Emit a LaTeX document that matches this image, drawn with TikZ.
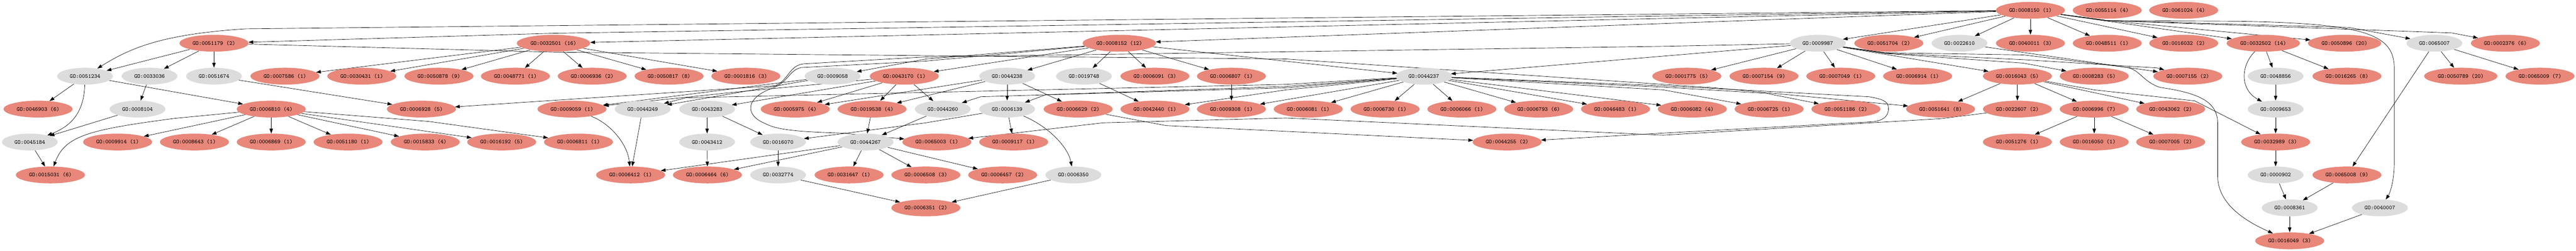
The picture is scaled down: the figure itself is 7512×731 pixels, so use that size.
\documentclass[tikz,border=0pt]{standalone}
\usepackage{tikz}
\usetikzlibrary{arrows.meta,shapes.geometric,backgrounds}
\definecolor{hitred}{RGB}{232,135,122}
\definecolor{ancgrey}{RGB}{220,220,220}

\begin{document}
\begin{tikzpicture}[
        x=0.5pt, y=-0.5pt,
        hitbox/.style={ellipse, fill=hitred, minimum width=100pt, minimum height=24.5pt, inner xsep=4.4pt, inner ysep=0pt, font=\ttfamily\fontsize{8.4}{10}\selectfont},
        ancbox/.style={ellipse, fill=ancgrey, minimum width=81.5pt, minimum height=24.5pt, inner sep=0pt, font=\ttfamily\fontsize{8.4}{10}\selectfont},
        arrow/.style={-{Triangle[length=7pt,width=5pt]}, line width=0.5pt}
    ]
        \useasboundingbox (0,0) rectangle (7512,731);

        % Row 0
        \node[hitbox] (g8150) at (5921,30) {GO:0008150 (1)};
        \node[hitbox] (g55114) at (6145,30) {GO:0055114 (4)};
        \node[hitbox] (g61024) at (6368,30) {GO:0061024 (4)};

        % Row 1
        \node[hitbox] (g51179) at (624,126) {GO:0051179 (2)};
        \node[hitbox] (g32501) at (1614,126) {GO:0032501 (16)};
        \node[hitbox] (g8152) at (3264,126) {GO:0008152 (12)};
        \node[ancbox] (g9987) at (5301,126) {GO:0009987};
        \node[hitbox] (g51704) at (5508,126) {GO:0051704 (2)};
        \node[ancbox] (g22610) at (5714,126) {GO:0022610};
        \node[hitbox] (g40011) at (5921,126) {GO:0040011 (3)};
        \node[hitbox] (g48511) at (6145,126) {GO:0048511 (1)};
        \node[hitbox] (g16032) at (6368,126) {GO:0016032 (2)};
        \node[hitbox] (g32502) at (6600,126) {GO:0032502 (14)};
        \node[hitbox] (g50896) at (6837,126) {GO:0050896 (20)};
        \node[ancbox] (g65007) at (7099,126) {GO:0065007};
        \node[hitbox] (g2376) at (7306,126) {GO:0002376 (6)};

        % Row 2
        \node[ancbox] (g51234) at (248,222) {GO:0051234};
        \node[ancbox] (g33036) at (436,222) {GO:0033036};
        \node[ancbox] (g51674) at (624,222) {GO:0051674};
        \node[hitbox] (g7586) at (831,222) {GO:0007586 (1)};
        \node[hitbox] (g30431) at (1055,222) {GO:0030431 (1)};
        \node[hitbox] (g50878) at (1280,222) {GO:0050878 (9)};
        \node[hitbox] (g48771) at (1503,222) {GO:0048771 (1)};
        \node[hitbox] (g6936) at (1727,222) {GO:0006936 (2)};
        \node[hitbox] (g50817) at (1951,222) {GO:0050817 (8)};
        \node[hitbox] (g1816) at (2175,222) {GO:0001816 (3)};
        \node[ancbox] (g9058) at (2428,222) {GO:0009058};
        \node[hitbox] (g43170) at (2637,222) {GO:0043170 (1)};
        \node[ancbox] (g44238) at (2937,222) {GO:0044238};
        \node[ancbox] (g19748) at (3161,222) {GO:0019748};
        \node[hitbox] (g6091) at (3368,222) {GO:0006091 (3)};
        \node[hitbox] (g6807) at (3591,222) {GO:0006807 (1)};
        \node[ancbox] (g44237) at (4152,222) {GO:0044237};
        \node[hitbox] (g1775) at (4919,222) {GO:0001775 (5)};
        \node[hitbox] (g7154) at (5144,222) {GO:0007154 (9)};
        \node[hitbox] (g7049) at (5368,222) {GO:0007049 (1)};
        \node[hitbox] (g6914) at (5592,222) {GO:0006914 (1)};
        \node[hitbox] (g16043) at (5883,222) {GO:0016043 (5)};
        \node[hitbox] (g8283) at (6107,222) {GO:0008283 (5)};
        \node[hitbox] (g7155) at (6380,222) {GO:0007155 (2)};
        \node[ancbox] (g48856) at (6636,222) {GO:0048856};
        \node[hitbox] (g16265) at (6844,222) {GO:0016265 (8)};
        \node[hitbox] (g50789) at (7176,222) {GO:0050789 (20)};
        \node[hitbox] (g65009) at (7407,222) {GO:0065009 (7)};

        % Row 3
        \node[hitbox] (g46903) at (111,318) {GO:0046903 (6)};
        \node[ancbox] (g8104) at (401,318) {GO:0008104};
        \node[hitbox] (g6810) at (791,318) {GO:0006810 (4)};
        \node[hitbox] (g6928) at (1229,318) {GO:0006928 (5)};
        \node[hitbox] (g9059) at (1668,318) {GO:0009059 (1)};
        \node[ancbox] (g44249) at (1874,318) {GO:0044249};
        \node[ancbox] (g43283) at (2062,318) {GO:0043283};
        \node[hitbox] (g5975) at (2319,318) {GO:0005975 (4)};
        \node[hitbox] (g19538) at (2543,318) {GO:0019538 (4)};
        \node[ancbox] (g44260) at (2749,318) {GO:0044260};
        \node[ancbox] (g6139) at (2937,318) {GO:0006139};
        \node[hitbox] (g6629) at (3144,318) {GO:0006629 (2)};
        \node[hitbox] (g42440) at (3368,318) {GO:0042440 (1)};
        \node[hitbox] (g9308) at (3591,318) {GO:0009308 (1)};
        \node[hitbox] (g6081) at (3815,318) {GO:0006081 (1)};
        \node[hitbox] (g6730) at (4039,318) {GO:0006730 (1)};
        \node[hitbox] (g6066) at (4263,318) {GO:0006066 (1)};
        \node[hitbox] (g6793) at (4487,318) {GO:0006793 (6)};
        \node[hitbox] (g46483) at (4711,318) {GO:0046483 (1)};
        \node[hitbox] (g6082) at (4935,318) {GO:0006082 (4)};
        \node[hitbox] (g6725) at (5159,318) {GO:0006725 (1)};
        \node[hitbox] (g51186) at (5383,318) {GO:0051186 (2)};
        \node[hitbox] (g51641) at (5659,318) {GO:0051641 (8)};
        \node[hitbox] (g22607) at (5883,318) {GO:0022607 (2)};
        \node[hitbox] (g6996) at (6107,318) {GO:0006996 (7)};
        \node[hitbox] (g43062) at (6330,318) {GO:0043062 (2)};
        \node[ancbox] (g9653) at (6636,318) {GO:0009653};

        % Row 4
        \node[ancbox] (g45184) at (87,414) {GO:0045184};
        \node[hitbox] (g9914) at (343,414) {GO:0009914 (1)};
        \node[hitbox] (g8643) at (567,414) {GO:0008643 (1)};
        \node[hitbox] (g6869) at (791,414) {GO:0006869 (1)};
        \node[hitbox] (g51180) at (1015,414) {GO:0051180 (1)};
        \node[hitbox] (g15833) at (1240,414) {GO:0015833 (4)};
        \node[hitbox] (g16192) at (1463,414) {GO:0016192 (5)};
        \node[hitbox] (g6811) at (1687,414) {GO:0006811 (1)};
        \node[ancbox] (g43412) at (2062,414) {GO:0043412};
        \node[ancbox] (g16070) at (2269,414) {GO:0016070};
        \node[ancbox] (g44267) at (2524,414) {GO:0044267};
        \node[hitbox] (g65003) at (2732,414) {GO:0065003 (1)};
        \node[hitbox] (g9117) at (2956,414) {GO:0009117 (1)};
        \node[hitbox] (g44255) at (4395,414) {GO:0044255 (2)};
        \node[hitbox] (g51276) at (5883,414) {GO:0051276 (1)};
        \node[hitbox] (g16050) at (6107,414) {GO:0016050 (1)};
        \node[hitbox] (g7005) at (6330,414) {GO:0007005 (2)};
        \node[hitbox] (g32989) at (6636,414) {GO:0032989 (3)};

        % Row 5
        \node[hitbox] (g15031) at (147,510) {GO:0015031 (6)};
        \node[hitbox] (g6412) at (1839,510) {GO:0006412 (1)};
        \node[hitbox] (g6464) at (2063,510) {GO:0006464 (6)};
        \node[ancbox] (g32774) at (2269,510) {GO:0032774};
        \node[hitbox] (g31647) at (2476,510) {GO:0031647 (1)};
        \node[hitbox] (g6508) at (2700,510) {GO:0006508 (3)};
        \node[hitbox] (g6457) at (2924,510) {GO:0006457 (2)};
        \node[ancbox] (g6350) at (3130,510) {GO:0006350};
        \node[ancbox] (g902) at (6636,510) {GO:0000902};
        \node[hitbox] (g65008) at (6844,510) {GO:0065008 (9)};

        % Rows 6 and 7
        \node[hitbox] (g6351) at (2700,606) {GO:0006351 (2)};
        \node[ancbox] (g8361) at (6677,606) {GO:0008361};
        \node[ancbox] (g40007) at (6940,606) {GO:0040007};
        \node[hitbox] (g16049) at (6677,702) {GO:0016049 (3)};

        \begin{scope}[on background layer]
        % Arrows from the root
        \draw[arrow] (g8150) -- (1614,97) -- (g51179);
        \draw[arrow] (g8150) -- (717,84) .. controls (470,100) and (380,140) .. (g51234);
        \draw[arrow] (g8150) -- (g32501);
        \draw[arrow] (g8150) -- (g8152);
        \draw[arrow] (g8150) -- (g9987);
        \draw[arrow] (g8150) -- (g51704);
        \draw[arrow] (g8150) -- (g22610);
        \draw[arrow] (g8150) -- (g40011);
        \draw[arrow] (g8150) -- (g48511);
        \draw[arrow] (g8150) -- (g16032);
        \draw[arrow] (g8150) -- (g32502);
        \draw[arrow] (g8150) -- (6145,60) -- (g50896);
        \draw[arrow] (g8150) -- (6145,60) -- (6850,80) -- (g65007);
        \draw[arrow] (g8150) -- (6145,60) -- (7150,96) -- (g2376);
        \draw[arrow] (g8150) -- (6145,60) -- (6524,62) .. controls (6900,68) and (6982,100) .. (6982,200) -- (6982,470) .. controls (6982,540) and (6965,570) .. (g40007);

        % Localization and transport
        \draw[arrow] (g51179) -- (g51234);
        \draw[arrow] (g51179) -- (g33036);
        \draw[arrow] (g51179) -- (g51674);
        \draw[arrow] (g51179) -- (1614,152) -- (3750,172) -- (5000,256) -- (g51641);
        \draw[arrow] (g51234) -- (g46903);
        \draw[arrow] (g51234) -- (g6810);
        \draw[arrow] (g51234) .. controls (245,320) and (215,365) .. (g45184);
        \draw[arrow] (g33036) -- (g8104);
        \draw[arrow] (g51674) -- (g6928);
        \draw[arrow] (g8104) -- (g45184);
        \draw[arrow] (g45184) -- (g15031);
        \draw[arrow] (g6810) -- (510,345) .. controls (260,378) and (190,395) .. (g15031);
        \draw[arrow] (g6810) -- (g9914);
        \draw[arrow] (g6810) -- (g8643);
        \draw[arrow] (g6810) -- (g6869);
        \draw[arrow] (g6810) -- (g51180);
        \draw[arrow] (g6810) -- (g15833);
        \draw[arrow] (g6810) -- (g16192);
        \draw[arrow] (g6810) -- (1250,354) -- (g6811);

        % Multicellular organismal process
        \draw[arrow] (g32501) -- (g7586);
        \draw[arrow] (g32501) -- (g30431);
        \draw[arrow] (g32501) -- (g50878);
        \draw[arrow] (g32501) -- (g48771);
        \draw[arrow] (g32501) -- (g6936);
        \draw[arrow] (g32501) -- (g50817);
        \draw[arrow] (g32501) -- (g1816);

        % Metabolic process
        \draw[arrow] (g8152) -- (2700,172) -- (g9058);
        \draw[arrow] (g8152) -- (g43170);
        \draw[arrow] (g8152) -- (g44238);
        \draw[arrow] (g8152) -- (g19748);
        \draw[arrow] (g8152) -- (g6091);
        \draw[arrow] (g8152) -- (g6807);
        \draw[arrow] (g8152) -- (g44237);
        \draw[arrow] (g8152) -- (2700,178) -- (2336,197) .. controls (2300,205) and (2300,240) .. (2250,258) .. controls (2175,285) and (2170,335) .. (2231,360) .. controls (2265,378) and (2320,384) .. (2455,388) -- (g65003);
        \draw[arrow] (g9058) -- (g9059);
        \draw[arrow] (g9058) -- (g44249);
        \draw[arrow] (g43170) -- (2150,268) -- (g9059);
        \draw[arrow] (g43170) -- (g43283);
        \draw[arrow] (g43170) -- (g5975);
        \draw[arrow] (g43170) -- (g19538);
        \draw[arrow] (g43170) -- (g44260);
        \draw[arrow] (g44238) -- (g5975);
        \draw[arrow] (g44238) -- (g19538);
        \draw[arrow] (g44238) -- (g6139);
        \draw[arrow] (g44238) -- (g6629);
        \draw[arrow] (g19748) -- (g42440);
        \draw[arrow] (g6807) -- (g9308);

        % Cellular metabolic process
        \draw[arrow] (g44237) -- (3750,246) -- (2000,285) -- (g44249);
        \draw[arrow] (g44237) -- (3750,256) -- (2860,282) -- (g44260);
        \draw[arrow] (g44237) -- (3750,252) -- (3050,276) -- (g6139);
        \draw[arrow] (g44237) -- (3750,262) -- (g42440);
        \draw[arrow] (g44237) -- (g9308);
        \draw[arrow] (g44237) -- (g6081);
        \draw[arrow] (g44237) -- (g6730);
        \draw[arrow] (g44237) -- (g6066);
        \draw[arrow] (g44237) -- (g6793);
        \draw[arrow] (g44237) -- (g46483);
        \draw[arrow] (g44237) -- (g6082);
        \draw[arrow] (g44237) -- (4850,262) -- (g6725);
        \draw[arrow] (g44237) -- (4850,254) -- (5150,272) -- (g51186);
        \draw[arrow] (g44237) -- (4850,250) -- (5450,282) .. controls (5500,290) and (5507,300) .. (5507,317) .. controls (5507,340) and (5490,352) .. (5460,355) -- (4850,388) -- (g44255);
        \draw[arrow] (g6629) -- (3400,366) -- (g44255);

        % Macromolecules
        \draw[arrow] (g9059) .. controls (1780,360) and (1830,420) .. (g6412);
        \draw[arrow] (g44249) -- (g6412);
        \draw[arrow] (g43283) -- (g43412);
        \draw[arrow] (g43283) -- (g16070);
        \draw[arrow] (g19538) -- (g44267);
        \draw[arrow] (g44260) -- (g44267);
        \draw[arrow] (g6139) -- (2700,358) -- (g16070);
        \draw[arrow] (g6139) -- (g9117);
        \draw[arrow] (g6139) .. controls (3060,370) and (3115,430) .. (g6350);
        \draw[arrow] (g44267) -- (g6412);
        \draw[arrow] (g44267) -- (g6464);
        \draw[arrow] (g44267) -- (g31647);
        \draw[arrow] (g44267) -- (g6508);
        \draw[arrow] (g44267) -- (g6457);
        \draw[arrow] (g43412) -- (g6464);
        \draw[arrow] (g16070) -- (g32774);
        \draw[arrow] (g32774) -- (g6351);
        \draw[arrow] (g6350) -- (g6351);

        % Cellular process
        \draw[arrow] (g9987) -- (g44237);
        \draw[arrow] (g9987) -- (4850,135) -- (2700,166) -- (2345,186) .. controls (2300,190) and (2300,235) .. (2260,250) -- (g6928);
        \draw[arrow] (g9987) -- (g1775);
        \draw[arrow] (g9987) -- (g7154);
        \draw[arrow] (g9987) -- (g7049);
        \draw[arrow] (g9987) -- (g6914);
        \draw[arrow] (g9987) -- (g16043);
        \draw[arrow] (g9987) -- (5500,156) -- (5900,184) -- (g8283);
        \draw[arrow] (g9987) -- (5500,155) -- (5900,174) -- (6290,198) -- (g7155);
        \draw[arrow] (g9987) -- (5500,154) -- (5900,160) -- (6200,196) .. controls (6240,202) and (6250,240) .. (6300,255) .. controls (6420,272) and (6467,300) .. (6467,360) -- (6467,513) .. controls (6467,600) and (6560,650) .. (g16049);
        \draw[arrow] (g22610) -- (g7155);
        \draw[arrow] (g16043) -- (g51641);
        \draw[arrow] (g16043) -- (g22607);
        \draw[arrow] (g16043) -- (g6996);
        \draw[arrow] (g16043) -- (g43062);
        \draw[arrow] (g16043) -- (6107,262) -- (6400,294) -- (g32989);
        \draw[arrow] (g22607) -- (5659,346) -- (4850,394) -- (3750,344) -- (3217,358) -- (g65003);
        \draw[arrow] (g6996) -- (g51276);
        \draw[arrow] (g6996) -- (g16050);
        \draw[arrow] (g6996) -- (g7005);

        % Development and regulation
        \draw[arrow] (g32502) -- (g48856);
        \draw[arrow] (g32502) -- (g16265);
        \draw[arrow] (g32502) .. controls (6535,190) and (6530,260) .. (g9653);
        \draw[arrow] (g48856) -- (g9653);
        \draw[arrow] (g9653) -- (g32989);
        \draw[arrow] (g32989) -- (g902);
        \draw[arrow] (g902) -- (g8361);
        \draw[arrow] (g65008) -- (g8361);
        \draw[arrow] (g8361) -- (g16049);
        \draw[arrow] (g40007) -- (g16049);
        \draw[arrow] (g65007) -- (g65008);
        \draw[arrow] (g65007) -- (g50789);
        \draw[arrow] (g65007) -- (g65009);
        \end{scope}

    \end{tikzpicture}
\end{document}
